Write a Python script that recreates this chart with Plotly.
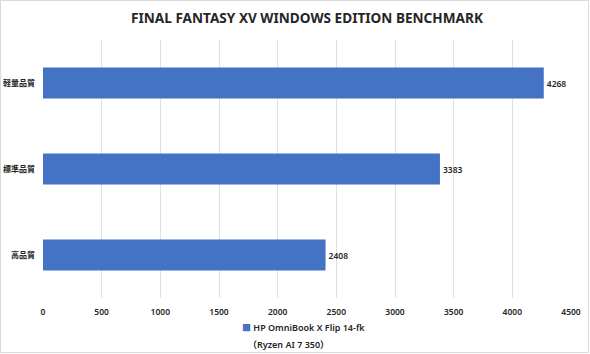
import plotly.graph_objects as go

categories = ["高品質", "標準品質", "軽量品質"]
scores = [2408, 3383, 4268]
series_name = "HP OmniBook X Flip 14-fk"
series_note = "（Ryzen AI 7 350）"
title = "FINAL FANTASY XV WINDOWS EDITION BENCHMARK"
tick_vals = [0, 500, 1000, 1500, 2000, 2500, 3000, 3500, 4000, 4500]
bar_color = "#4472C4"

W, H = 590, 354
L, R, T, B = 43, 19, 40, 56
pw, ph = W - L - R, H - T - B
FONT = "Noto Sans, Noto Sans CJK JP, sans-serif"
TXT = "#262626"

fig = go.Figure()
fig.add_trace(go.Bar(
    y=categories, x=scores, orientation="h", name=series_name,
    marker=dict(color=bar_color, line=dict(width=0)),
    width=0.36, showlegend=False,
    text=[str(v) for v in scores], textposition="outside",
    textfont=dict(size=8.5, color=TXT, family=FONT, weight=600),
    cliponaxis=False,
))

# chart border
fig.add_shape(type="rect", xref="paper", yref="paper",
              x0=-(L - 0.5) / pw, x1=1 + (R - 1.5) / pw,
              y0=-(B - 1.5) / ph, y1=1 + (T - 0.5) / ph,
              line=dict(color="#d9d9d9", width=1), layer="below")

# legend-like caption
fig.add_annotation(xref="paper", yref="paper",
                   x=(240 - L) / pw, y=-(327 - (H - B)) / ph,
                   xanchor="left", yanchor="middle", showarrow=False,
                   text=f"<span style='color:{bar_color}'>■</span> " + series_name,
                   font=dict(size=9, color=TXT, family=FONT, weight=600))
fig.add_annotation(xref="paper", yref="paper",
                   x=(246 - L) / pw, y=-(344 - (H - B)) / ph,
                   xanchor="left", yanchor="middle", showarrow=False,
                   text=series_note,
                   font=dict(size=9, color=TXT, family=FONT, weight=600))

fig.update_layout(
    width=W, height=H,
    margin=dict(l=L, r=R, t=T, b=B, autoexpand=False),
    paper_bgcolor="white", plot_bgcolor="white",
    font=dict(family=FONT, size=8.5, color=TXT),
    title=dict(text="<b>" + title + "</b>", x=0.5, xref="paper", xanchor="center",
               y=1 - 18 / H, yanchor="middle",
               font=dict(size=13.6, color=TXT, family=FONT)),
    xaxis=dict(range=[0, 4500], tickvals=tick_vals, showgrid=True,
               gridcolor="#e0e0e0", gridwidth=1, zeroline=False,
               showline=False, ticks="", automargin=False,
               ticklabelstandoff=7,
               tickfont=dict(size=8.5, weight=600), fixedrange=True),
    yaxis=dict(showgrid=False, zeroline=False, showline=False, ticks="",
               automargin=False, ticklabelstandoff=7,
               tickfont=dict(size=8, weight=600), fixedrange=True),
    showlegend=False,
    bargap=0.64,
)

fig.write_html("out.html")
